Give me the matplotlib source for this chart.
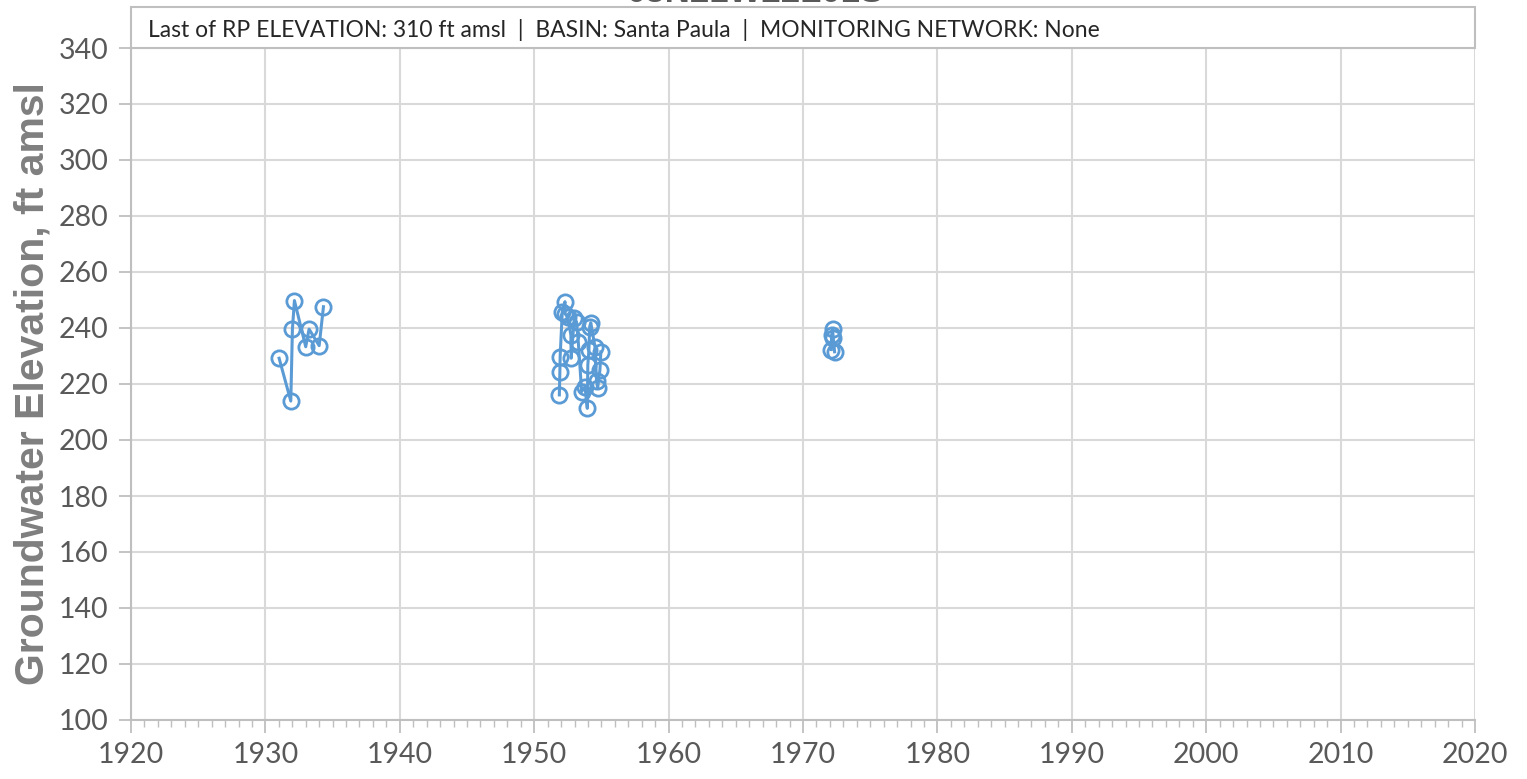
import numpy as np
import matplotlib.pyplot as plt
from matplotlib.patches import Rectangle
from matplotlib.ticker import MultipleLocator

# measurement dates (decimal years) and groundwater elevations, ft amsl
years = [1931.02, 1931.89, 1932.01, 1932.16, 1933.00, 1933.25, 1934.00, 1934.32,
         1951.87, 1951.91, 1951.93, 1952.09, 1952.29, 1952.31, 1952.48, 1952.73,
         1952.75, 1952.98, 1953.15, 1953.28, 1953.53, 1953.78, 1953.95, 1953.99,
         1954.07, 1954.13, 1954.21, 1954.52, 1954.64, 1954.72, 1954.89, 1954.96,
         1972.10, 1972.13, 1972.20, 1972.25, 1972.35]
elev = [229.2, 213.9, 239.6, 249.8, 233.3, 239.6, 233.7, 247.6,
        216.1, 224.4, 229.8, 245.8, 249.4, 245.0, 244.0, 237.5,
        229.2, 243.4, 242.2, 235.1, 217.3, 219.0, 211.3, 226.8,
        232.1, 240.5, 241.9, 233.3, 221.2, 218.5, 225.0, 231.5,
        232.3, 237.5, 239.5, 236.5, 231.5]

title = "03N21W22L01S"
info = "Last of RP ELEVATION: 310 ft amsl  |  BASIN: Santa Paula  |  MONITORING NETWORK: None"
ylabel = "Groundwater Elevation, ft amsl"

blue = "#5B9BD5"
grid_c = "#d9d9d9"
axis_c = "#bfbfbf"
label_c = "#595959"

fig = plt.figure(figsize=(15.27, 7.79), dpi=100)
ax = fig.add_axes([131/1527, 1 - 720/779, 1344/1527, 672/779])

# the line breaks where there is a long gap between readings
x = np.array(years)
y = np.array(elev)
breaks = np.where(np.diff(x) > 5)[0] + 1
for xs, ys in zip(np.split(x, breaks), np.split(y, breaks)):
    ax.plot(xs, ys, color=blue, lw=2.2, marker="o", ms=11, mfc="none",
            mec=blue, mew=2, zorder=3)

ax.set_xlim(1920, 2020)
ax.set_ylim(100, 340)
ax.xaxis.set_major_locator(MultipleLocator(10))
ax.xaxis.set_minor_locator(MultipleLocator(1))
ax.yaxis.set_major_locator(MultipleLocator(20))

ax.grid(True, which="major", color=grid_c, lw=1.5, zorder=0)
for s in ["top", "right"]:
    ax.spines[s].set_visible(False)
for s in ["left", "bottom"]:
    ax.spines[s].set_color(axis_c)
    ax.spines[s].set_linewidth(1.5)

ax.tick_params(axis="both", which="major", colors=axis_c, length=9, width=1.3,
               labelcolor=label_c, labelsize=20.5, pad=7)
ax.tick_params(axis="x", which="minor", colors=axis_c, length=5, width=1.0)
for lab in ax.get_xticklabels() + ax.get_yticklabels():
    lab.set_family("Lato")

ax.set_ylabel(ylabel, fontsize=29.5, fontweight="bold", color="#7f7f7f",
              family="Liberation Sans", labelpad=5)

# info box sitting above the plot area
h = 41 / 672
ax.add_patch(Rectangle((0, 1), 1, h, transform=ax.transAxes, fill=False,
                       edgecolor=axis_c, lw=1.5, clip_on=False, zorder=4))
ax.text(0.0126, 1 + 18/672, info, transform=ax.transAxes, fontsize=16.5,
        color="#262626", family="Lato", va="center", ha="left")

# title is mostly cut off at the top edge, as in the source chart
fig.text(755/1527, 1 - 2/779, title, fontsize=25, fontweight="bold",
         color="#595959", family="Liberation Sans", ha="center", va="baseline")

fig.savefig("out.png", dpi=100)
